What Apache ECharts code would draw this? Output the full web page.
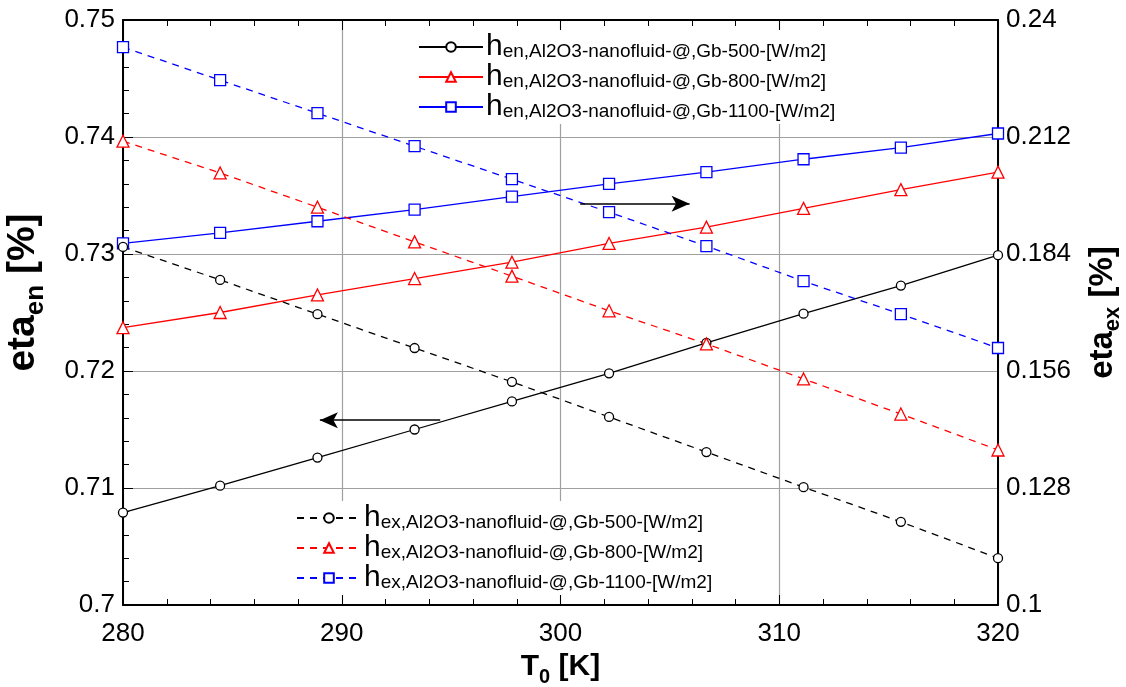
<!DOCTYPE html>
<html>
<head>
<meta charset="utf-8">
<script src="https://cdn.jsdelivr.net/npm/echarts@6/dist/echarts.min.js"></script>
<style>html,body{margin:0;padding:0;background:#fff;overflow:hidden}#c{width:1126px;height:687px;overflow:hidden}</style>
</head>
<body>
<div id="c"></div>
<script>
// Data
var T0 = [280, 284.44, 288.89, 293.33, 297.78, 302.22, 306.67, 311.11, 315.56, 320];
var etaEn500  = [0.7079, 0.7102, 0.7126, 0.7150, 0.7174, 0.7198, 0.7224, 0.7249, 0.7273, 0.7299];
var etaEn800  = [0.7237, 0.7250, 0.7265, 0.7279, 0.7293, 0.7309, 0.7323, 0.7339, 0.7355, 0.7370];
var etaEn1100 = [0.7309, 0.7318, 0.7328, 0.7338, 0.7349, 0.7360, 0.7370, 0.7381, 0.7391, 0.7403];
var etaEx500  = [0.1857, 0.1778, 0.1696, 0.1615, 0.1534, 0.1450, 0.1366, 0.1282, 0.1199, 0.1112];
var etaEx800  = [0.2110, 0.2034, 0.1952, 0.1869, 0.1787, 0.1704, 0.1625, 0.1541, 0.1457, 0.1371];
var etaEx1100 = [0.2335, 0.2256, 0.2177, 0.2098, 0.2019, 0.1940, 0.1859, 0.1775, 0.1696, 0.1615];
var namesEn = ['en,Al2O3-nanofluid-@,Gb-500-[W/m2]', 'en,Al2O3-nanofluid-@,Gb-800-[W/m2]', 'en,Al2O3-nanofluid-@,Gb-1100-[W/m2]'];
var namesEx = ['ex,Al2O3-nanofluid-@,Gb-500-[W/m2]', 'ex,Al2O3-nanofluid-@,Gb-800-[W/m2]', 'ex,Al2O3-nanofluid-@,Gb-1100-[W/m2]'];
var xTicks = {min: 280, max: 320, interval: 10};
var yLeftTicks = {min: 0.7, max: 0.75, interval: 0.01};
var yRightTicks = {min: 0.1, max: 0.24, interval: 0.028};
var arrowRight = [[300.9, 0.7343], [305.9, 0.7343]];
var arrowLeft = [[294.5, 0.7158], [289.0, 0.7158]];

function pairs(xs, ys) { return xs.map(function (x, i) { return [x, ys[i]]; }); }
function fmt(v) { return String(Math.round(v * 1000) / 1000); }

var FONT = 'Liberation Sans, Arial, sans-serif';
var colors = ['#000000', '#ff0000', '#0000ff'];
var symbols = ['circle', 'triangle', 'rect'];
var sizes = [9, 12, 11];

function mkSeries(name, ys, idx, yIdx, dashed) {
  return {
    name: name, type: 'line', yAxisIndex: yIdx, data: pairs(T0, ys),
    symbol: symbols[idx], symbolSize: sizes[idx], showAllSymbol: true,
    lineStyle: {color: colors[idx], width: 1.3, type: dashed ? [7, 6] : 'solid'},
    itemStyle: {color: '#ffffff', borderColor: colors[idx], borderWidth: 1.3},
    emphasis: {disabled: true}, z: 3
  };
}

var series = [
  mkSeries(namesEn[0], etaEn500, 0, 0, false),
  mkSeries(namesEn[1], etaEn800, 1, 0, false),
  mkSeries(namesEn[2], etaEn1100, 2, 0, false),
  mkSeries(namesEx[0], etaEx500, 0, 1, true),
  mkSeries(namesEx[1], etaEx800, 1, 1, true),
  mkSeries(namesEx[2], etaEx1100, 2, 1, true)
];
series[0].markLine = {
  silent: true, symbol: ['none', 'arrow'], symbolSize: [12, 18],
  lineStyle: {color: '#000', width: 1.5, type: 'solid'}, label: {show: false},
  data: [
    [{coord: arrowRight[0]}, {coord: arrowRight[1]}],
    [{coord: arrowLeft[0]}, {coord: arrowLeft[1]}]
  ]
};

var legendRich = {
  h: {fontFamily: FONT, fontSize: 30, color: '#000', verticalAlign: 'bottom', lineHeight: 30},
  t: {fontFamily: FONT, fontSize: 19, color: '#000', verticalAlign: 'bottom', lineHeight: 20, padding: [0, 0, 1, 0]}
};
function legendFmt(n) { return '{h|h}{t|' + n + '}'; }

var chart = echarts.init(document.getElementById('c'), null, {renderer: 'canvas', width: 1126, height: 687});
chart.setOption({
  animation: false,
  backgroundColor: '#fff',
  grid: {left: 123, right: 128, top: 20, bottom: 82, containLabel: false, outerBoundsMode: 'none'},
  legend: [
    {
      data: namesEn, orient: 'vertical', left: 414, top: 30, itemWidth: 64, itemHeight: 12, itemGap: 0,
      backgroundColor: '#fff', padding: [2, 6, 2, 4], formatter: legendFmt,
      textStyle: {rich: legendRich, padding: [0, 0, 0, -2]}, selectedMode: false
    },
    {
      data: namesEx, orient: 'vertical', left: 292, top: 501, itemWidth: 64, itemHeight: 12, itemGap: 0,
      backgroundColor: '#fff', padding: [2, 6, 2, 4], formatter: legendFmt,
      textStyle: {rich: legendRich, padding: [0, 0, 0, -2]}, selectedMode: false
    }
  ],
  xAxis: [
    {
      type: 'value', min: xTicks.min, max: xTicks.max, interval: xTicks.interval,
      name: '{b|T}{s|0}{b| [K]}', nameLocation: 'middle', nameGap: 40,
      nameTextStyle: {rich: {
        b: {fontFamily: FONT, fontSize: 30, fontWeight: 'bold', color: '#000', verticalAlign: 'bottom'},
        s: {fontFamily: FONT, fontSize: 20, fontWeight: 'bold', color: '#000', verticalAlign: 'bottom', padding: [0, 0, -6, 0]}
      }},
      axisLine: {lineStyle: {color: '#000', width: 2}},
      axisTick: {inside: true, length: 10, lineStyle: {color: '#000', width: 1}},
      minorTick: {show: true, splitNumber: 5, length: 6, lineStyle: {color: '#000', width: 1}},
      axisLabel: {fontFamily: FONT, fontSize: 26, color: '#000', margin: 16, formatter: fmt},
      splitLine: {show: true, lineStyle: {color: '#a0a0a0', width: 1.2}}
    },
    {
      type: 'value', position: 'top', min: xTicks.min, max: xTicks.max, interval: xTicks.interval,
      axisLine: {lineStyle: {color: '#000', width: 2}},
      axisTick: {inside: true, length: 10, lineStyle: {color: '#000', width: 1}},
      minorTick: {show: true, splitNumber: 5, length: 6, lineStyle: {color: '#000', width: 1}},
      axisLabel: {show: false}, splitLine: {show: false}
    }
  ],
  yAxis: [
    {
      type: 'value', position: 'left', min: yLeftTicks.min, max: yLeftTicks.max, interval: yLeftTicks.interval,
      name: '{b|eta}{s|en}{b| [%]}', nameLocation: 'middle', nameGap: 80, nameRotate: 90,
      nameTextStyle: {padding: [0, 0, 0, 40], rich: {
        b: {fontFamily: FONT, fontSize: 39, fontWeight: 'bold', color: '#000', verticalAlign: 'bottom'},
        s: {fontFamily: FONT, fontSize: 26, fontWeight: 'bold', color: '#000', verticalAlign: 'bottom', padding: [0, 0, -6, 0]}
      }},
      axisLine: {show: true, lineStyle: {color: '#000', width: 2}},
      axisTick: {inside: true, length: 10, lineStyle: {color: '#000', width: 1}},
      minorTick: {show: true, splitNumber: 5, length: 6, lineStyle: {color: '#000', width: 1}},
      axisLabel: {fontFamily: FONT, fontSize: 26, color: '#000', margin: 8, formatter: fmt},
      splitLine: {show: true, lineStyle: {color: '#a0a0a0', width: 1.2}}
    },
    {
      type: 'value', position: 'right', min: yRightTicks.min, max: yRightTicks.max, interval: yRightTicks.interval,
      name: '{b|eta}{s|ex}{b| [%]}', nameLocation: 'middle', nameGap: 88, nameRotate: 90,
      nameTextStyle: {rich: {
        b: {fontFamily: FONT, fontSize: 33, fontWeight: 'bold', color: '#000', verticalAlign: 'bottom'},
        s: {fontFamily: FONT, fontSize: 22, fontWeight: 'bold', color: '#000', verticalAlign: 'bottom', padding: [0, 0, -5, 0]}
      }},
      axisLine: {show: true, lineStyle: {color: '#000', width: 2}},
      axisTick: {show: false},
      axisLabel: {fontFamily: FONT, fontSize: 26, color: '#000', margin: 8, formatter: fmt},
      splitLine: {show: false}
    }
  ],
  series: series
});
</script>
</body>
</html>
